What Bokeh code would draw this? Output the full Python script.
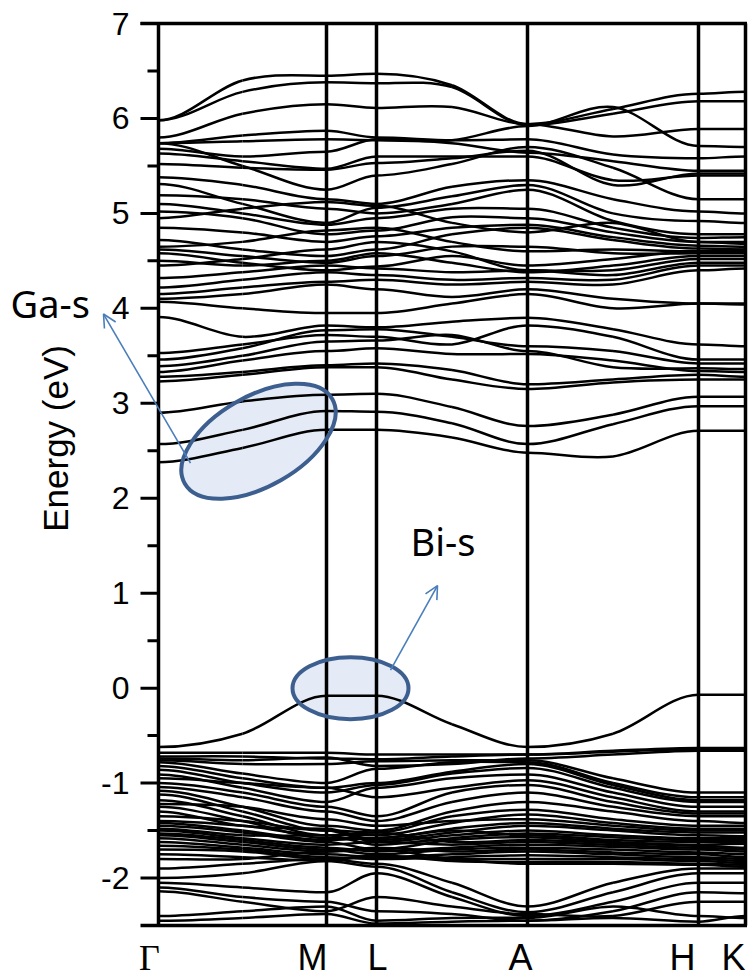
import math

from bokeh.plotting import figure
from bokeh.models import ColumnDataSource, Arrow, OpenHead
from bokeh.core.properties import value
from bokeh.embed import file_html
from bokeh.resources import INLINE

# k-path: high-symmetry points (cumulative path length) and their labels
kpoint_labels = ["\u0393", "M", "L", "A", "H", "K"]
kpoint_pos = [0.0, 168.0, 218.0, 369.0, 540.0, 587.0]

# sampling nodes along the path: each high-symmetry point plus segment midpoints
k_nodes = [0.0, 84.0, 168.0, 218.0, 293.5, 369.0, 454.5, 540.0, 587.0]
node_is_symmetry = [True, False, True, True, False, True, False, True, True]

# energy axis
e_min, e_max = -2.5, 7.0
major_ticks = [-2, -1, 0, 1, 2, 3, 4, 5, 6, 7]
minor_ticks = [-1.5, -0.5, 0.5, 1.5, 2.5, 3.5, 4.5, 5.5, 6.5]
major_labels = ["-2", "-1", "0", "1", "2", "3", "4", "5", "6", "7"]

# band energies (eV) at the nodes:  Γ, Γ-M, M, L, L-A, A, A-H, H, K
# conduction bands
cb01 = [5.98, 6.40, 6.45, 6.47, 6.35, 5.94, 6.10, 6.26, 6.28]
cb02 = [5.98, 6.28, 6.38, 6.37, 6.33, 5.93, 6.05, 6.18, 6.18]
cb03 = [5.80, 6.05, 6.15, 6.11, 6.12, 5.94, 5.81, 5.89, 5.89]
cb04 = [5.74, 5.76, 5.78, 5.77, 5.77, 5.92, 6.12, 5.71, 5.70]
cb05 = [5.74, 5.82, 5.87, 5.80, 5.77, 5.78, 5.62, 5.58, 5.60]
cb06 = [5.68, 5.60, 5.65, 5.78, 5.74, 5.64, 5.55, 5.45, 5.45]
cb07 = [5.63, 5.55, 5.47, 5.60, 5.60, 5.60, 5.35, 5.40, 5.40]
cb08 = [5.52, 5.48, 5.46, 5.53, 5.58, 5.66, 5.30, 5.42, 5.42]
cb09 = [5.74, 5.50, 5.25, 5.40, 5.52, 5.70, 5.48, 5.15, 5.15]
cb10 = [5.38, 5.30, 5.15, 5.10, 5.28, 5.35, 5.15, 5.02, 5.00]
cb11 = [5.31, 5.10, 4.90, 5.06, 5.18, 5.30, 5.00, 4.92, 4.90]
cb12 = [5.19, 5.15, 5.05, 5.00, 5.10, 5.25, 4.92, 4.78, 4.78]
cb13 = [5.10, 5.00, 4.88, 4.95, 5.05, 5.05, 4.85, 4.74, 4.75]
cb14 = [5.02, 4.95, 4.78, 4.82, 4.96, 4.95, 4.80, 4.70, 4.70]
cb15 = [4.95, 5.05, 5.12, 5.08, 4.90, 4.80, 4.90, 4.70, 4.68]
cb16 = [4.85, 4.80, 4.70, 4.76, 4.85, 4.88, 4.75, 4.66, 4.65]
cb17 = [4.72, 4.62, 4.55, 4.62, 4.78, 4.85, 4.72, 4.63, 4.62]
cb18 = [4.65, 4.70, 4.82, 4.85, 4.70, 4.60, 4.62, 4.60, 4.60]
cb19 = [4.62, 4.55, 4.48, 4.55, 4.65, 4.65, 4.58, 4.58, 4.58]
cb20 = [4.58, 4.48, 4.40, 4.44, 4.55, 4.45, 4.52, 4.60, 4.62]
cb21 = [4.50, 4.45, 4.50, 4.58, 4.48, 4.38, 4.45, 4.55, 4.55]
cb22 = [4.45, 4.52, 4.62, 4.70, 4.60, 4.40, 4.40, 4.52, 4.52]
cb23 = [4.32, 4.38, 4.45, 4.42, 4.38, 4.40, 4.35, 4.48, 4.48]
cb24 = [4.22, 4.30, 4.38, 4.35, 4.30, 4.32, 4.30, 4.45, 4.45]
cb25 = [4.15, 4.22, 4.28, 4.30, 4.25, 4.28, 4.25, 4.40, 4.42]
cb26 = [4.10, 4.15, 4.25, 4.20, 4.12, 4.20, 4.10, 4.05, 4.05]
cb27 = [4.07, 4.00, 3.95, 3.95, 4.05, 4.15, 4.00, 4.05, 4.04]
cb28 = [3.91, 3.70, 3.82, 3.80, 3.86, 3.90, 3.78, 3.62, 3.60]
cb29 = [3.53, 3.62, 3.72, 3.70, 3.62, 3.82, 3.70, 3.46, 3.46]
cb30 = [3.46, 3.58, 3.77, 3.78, 3.70, 3.60, 3.55, 3.42, 3.42]
cb31 = [3.39, 3.50, 3.65, 3.66, 3.72, 3.55, 3.38, 3.37, 3.36]
cb32 = [3.33, 3.45, 3.55, 3.58, 3.52, 3.52, 3.45, 3.34, 3.33]
cb33 = [3.28, 3.33, 3.40, 3.42, 3.35, 3.20, 3.25, 3.30, 3.28]
cb34 = [3.23, 3.30, 3.38, 3.38, 3.25, 3.15, 3.22, 3.25, 3.25]
cb35 = [2.90, 3.02, 3.09, 3.10, 2.96, 2.76, 2.88, 3.07, 3.07]
cb36 = [2.57, 2.72, 2.92, 2.91, 2.79, 2.57, 2.78, 2.97, 2.97]
cb37 = [2.38, 2.53, 2.72, 2.72, 2.64, 2.48, 2.44, 2.71, 2.71]

# valence bands
vb01 = [-0.62, -0.48, -0.08, -0.08, -0.38, -0.62, -0.48, -0.07, -0.07]
vb02 = [-0.68, -0.68, -0.68, -0.70, -0.70, -0.70, -0.66, -0.63, -0.63]
vb03 = [-0.72, -0.72, -0.74, -0.75, -0.72, -0.70, -0.67, -0.64, -0.64]
vb04 = [-0.74, -0.76, -0.73, -0.82, -0.80, -0.74, -0.70, -0.66, -0.66]
vb05 = [-0.76, -0.80, -0.80, -0.77, -0.76, -0.76, -0.95, -1.10, -1.10]
vb06 = [-0.78, -0.90, -1.00, -0.85, -0.78, -0.78, -1.00, -1.15, -1.15]
vb07 = [-0.82, -0.95, -1.05, -1.00, -0.88, -0.80, -1.02, -1.18, -1.18]
vb08 = [-0.86, -1.00, -1.10, -1.02, -0.90, -0.84, -1.05, -1.20, -1.20]
vb09 = [-0.91, -1.05, -1.20, -1.05, -0.95, -0.91, -1.10, -1.25, -1.25]
vb10 = [-0.95, -1.00, -1.05, -1.15, -1.05, -0.97, -1.15, -1.30, -1.30]
vb11 = [-1.00, -1.10, -1.25, -1.35, -1.10, -1.02, -1.20, -1.32, -1.32]
vb12 = [-1.04, -1.15, -1.30, -1.40, -1.20, -1.10, -1.25, -1.35, -1.35]
vb13 = [-1.08, -1.25, -1.45, -1.50, -1.30, -1.20, -1.30, -1.40, -1.42]
vb14 = [-1.12, -1.30, -1.50, -1.52, -1.35, -1.28, -1.38, -1.45, -1.45]
vb15 = [-1.18, -1.35, -1.55, -1.55, -1.42, -1.33, -1.42, -1.48, -1.48]
vb16 = [-1.22, -1.25, -1.38, -1.45, -1.40, -1.38, -1.45, -1.50, -1.50]
vb17 = [-1.25, -1.40, -1.58, -1.58, -1.48, -1.42, -1.48, -1.52, -1.52]
vb18 = [-1.30, -1.45, -1.48, -1.60, -1.52, -1.45, -1.50, -1.55, -1.56]
vb19 = [-1.35, -1.40, -1.50, -1.62, -1.55, -1.50, -1.55, -1.58, -1.58]
vb20 = [-1.40, -1.45, -1.55, -1.65, -1.58, -1.53, -1.57, -1.60, -1.60]
vb21 = [-1.42, -1.50, -1.60, -1.58, -1.50, -1.55, -1.60, -1.62, -1.62]
vb22 = [-1.45, -1.52, -1.62, -1.70, -1.60, -1.57, -1.62, -1.65, -1.64]
vb23 = [-1.48, -1.55, -1.55, -1.52, -1.62, -1.60, -1.63, -1.66, -1.68]
vb24 = [-1.50, -1.58, -1.65, -1.62, -1.65, -1.62, -1.65, -1.68, -1.70]
vb25 = [-1.53, -1.60, -1.68, -1.72, -1.68, -1.65, -1.67, -1.70, -1.72]
vb26 = [-1.55, -1.62, -1.70, -1.75, -1.70, -1.68, -1.70, -1.73, -1.75]
vb27 = [-1.58, -1.65, -1.72, -1.68, -1.72, -1.70, -1.73, -1.75, -1.78]
vb28 = [-1.62, -1.68, -1.75, -1.78, -1.75, -1.72, -1.75, -1.78, -1.80]
vb29 = [-1.66, -1.70, -1.78, -1.80, -1.78, -1.76, -1.78, -1.80, -1.82]
vb30 = [-1.70, -1.72, -1.80, -1.78, -1.80, -1.80, -1.80, -1.82, -1.84]
vb31 = [-1.75, -1.78, -1.82, -1.76, -1.82, -1.83, -1.83, -1.85, -1.86]
vb32 = [-1.80, -1.80, -1.72, -1.70, -1.80, -1.85, -1.85, -1.86, -1.88]
vb33 = [-1.90, -1.85, -1.80, -1.85, -2.05, -2.30, -2.05, -1.90, -1.90]
vb34 = [-2.00, -1.95, -1.82, -1.88, -2.15, -2.36, -2.15, -1.95, -1.95]
vb35 = [-2.05, -2.10, -2.15, -1.95, -2.20, -2.40, -2.25, -2.05, -2.05]
vb36 = [-2.10, -2.20, -2.25, -2.35, -2.38, -2.45, -2.35, -2.15, -2.16]
vb37 = [-2.14, -2.25, -2.35, -2.20, -2.30, -2.38, -2.40, -2.25, -2.25]
vb38 = [-2.40, -2.35, -2.30, -2.45, -2.42, -2.42, -2.30, -2.40, -2.42]
vb39 = [-2.45, -2.42, -2.38, -2.48, -2.46, -2.45, -2.42, -2.46, -2.40]

conduction = [cb01, cb02, cb03, cb04, cb05, cb06, cb07, cb08, cb09, cb10,
              cb11, cb12, cb13, cb14, cb15, cb16, cb17, cb18, cb19, cb20,
              cb21, cb22, cb23, cb24, cb25, cb26, cb27, cb28, cb29, cb30,
              cb31, cb32, cb33, cb34, cb35, cb36, cb37]
valence = [vb01, vb02, vb03, vb04, vb05, vb06, vb07, vb08, vb09, vb10,
           vb11, vb12, vb13, vb14, vb15, vb16, vb17, vb18, vb19, vb20,
           vb21, vb22, vb23, vb24, vb25, vb26, vb27, vb28, vb29, vb30,
           vb31, vb32, vb33, vb34, vb35, vb36, vb37, vb38, vb39]

# annotation anchors (k, eV)
ga_ellipse = (100.0, 2.60)
bi_ellipse = (192.0, 0.0)
ga_arrow = (32.0, 2.37, -55.0, 3.94)
bi_arrow = (232.0, 0.19, 279.0, 1.08)
ga_text = (-148.0, 4.06)
bi_text = (252.0, 1.55)

# canvas geometry (pixels): the data frame fills the whole canvas and the
# energy axis, its labels and the k-point labels are drawn inside it
W, H = 751, 980
left_px, top_px, bottom_px = 158, 23, 55
px_per_ev = (H - top_px - bottom_px) / (e_max - e_min)
x_lo = -float(left_px)
x_hi = x_lo + W
y_lo = e_min - bottom_px / px_per_ev
y_hi = e_max + top_px / px_per_ev


def band_segments(energies):
    """Cubic Bezier pieces through the nodes: flat at high-symmetry points,
    centred-difference slope at the segment midpoints."""
    n = len(k_nodes)
    slopes = []
    for i in range(n):
        if node_is_symmetry[i]:
            slopes.append(0.0)
        else:
            slopes.append((energies[i + 1] - energies[i - 1]) /
                          (k_nodes[i + 1] - k_nodes[i - 1]))
    segs = []
    for i in range(n - 1):
        h = k_nodes[i + 1] - k_nodes[i]
        segs.append((k_nodes[i], energies[i],
                     k_nodes[i + 1], energies[i + 1],
                     k_nodes[i] + h / 3, energies[i] + slopes[i] * h / 3,
                     k_nodes[i + 1] - h / 3, energies[i + 1] - slopes[i + 1] * h / 3))
    return segs


cols = {c: [] for c in ("x0", "y0", "x1", "y1", "cx0", "cy0", "cx1", "cy1")}
for band in conduction + valence:
    for seg in band_segments(band):
        for c, v in zip(cols, seg):
            cols[c].append(v)
src = ColumnDataSource(cols)

p = figure(width=W, height=H, x_range=(x_lo, x_hi), y_range=(y_lo, y_hi),
           output_backend="svg", toolbar_location=None, min_border=0,
           min_border_left=0, min_border_right=0, min_border_top=0,
           min_border_bottom=0)
p.background_fill_color = "white"
p.border_fill_color = "white"
p.grid.visible = False
p.outline_line_color = None
p.axis.visible = False

sans = value("Liberation Sans")
k_first, k_last = kpoint_pos[0], kpoint_pos[-1]
major_len = 18.0
minor_len = 11.0

ellipses = ((ga_ellipse, 170, 90, 0.52), (bi_ellipse, 116, 62, 0.0))

# highlight fills sit underneath the bands
for (cx, cy), w, h, ang in ellipses:
    p.ellipse(x=[cx], y=[cy], width=w, height=h, width_units="screen",
              height_units="screen", angle=ang, fill_color="#dfe7f4",
              fill_alpha=0.85, line_color=None)

p.bezier(x0="x0", y0="y0", x1="x1", y1="y1", cx0="cx0", cy0="cy0",
         cx1="cx1", cy1="cy1", source=src, line_color="black", line_width=2.5)

# high-symmetry separators and the right-hand border
p.segment(x0=kpoint_pos[1:], y0=[e_min] * 5, x1=kpoint_pos[1:], y1=[e_max] * 5,
          line_color="black", line_width=3.5)

# frame: left axis line, top and bottom lines (these run out to tick length)
p.segment(x0=[k_first, k_first - major_len, k_first - major_len],
          y0=[e_min, e_max, e_min],
          x1=[k_first, k_last + 1.5, k_last + 1.5],
          y1=[e_max, e_max, e_min],
          line_color="black", line_width=3.5)

# energy ticks and labels
p.segment(x0=[k_first - major_len] * len(major_ticks), y0=major_ticks,
          x1=[k_first] * len(major_ticks), y1=major_ticks,
          line_color="black", line_width=3)
p.segment(x0=[k_first - minor_len] * len(minor_ticks), y0=minor_ticks,
          x1=[k_first] * len(minor_ticks), y1=minor_ticks,
          line_color="black", line_width=3)
p.text(x=[k_first - major_len - 11] * len(major_ticks), y=major_ticks,
       text=major_labels, text_font=sans, text_font_size="32px",
       text_align="right", text_baseline="middle", text_color="black")
p.text(x=[-103.0], y=[2.63], text=["Energy (eV)"], text_font=sans,
       text_font_size="35px", text_align="center", text_baseline="middle",
       angle=math.pi / 2, text_color="black")

# k-point labels, nudged slightly left of their separators; Γ in a serif face
label_nudge = [-9.0, -14.0, 1.0, -7.0, -16.0, -12.0]
label_x = [k + d for k, d in zip(kpoint_pos, label_nudge)]
label_y = -2.84
p.text(x=label_x[:1], y=[label_y], text=kpoint_labels[:1],
       text_font=value("Liberation Serif"), text_font_size="36px",
       text_align="center", text_baseline="middle", text_color="black")
p.text(x=label_x[1:], y=[label_y] * 5, text=kpoint_labels[1:], text_font=sans,
       text_font_size="36px", text_align="center", text_baseline="middle",
       text_color="black")

# ellipse outlines on top
for (cx, cy), w, h, ang in ellipses:
    p.ellipse(x=[cx], y=[cy], width=w, height=h, width_units="screen",
              height_units="screen", angle=ang, fill_color=None,
              line_color="#3d5f8f", line_width=4)

arrow_color = "#4a7ebb"
for x0, y0, x1, y1 in (ga_arrow, bi_arrow):
    p.add_layout(Arrow(x_start=x0, y_start=y0, x_end=x1, y_end=y1,
                       line_color=arrow_color, line_width=1.6,
                       end=OpenHead(size=13, line_color=arrow_color,
                                    line_width=1.6)))

p.text(x=[ga_text[0], bi_text[0]], y=[ga_text[1], bi_text[1]],
       text=["Ga-s", "Bi-s"], text_font=value("Noto Sans"),
       text_font_size="38px", text_baseline="middle", text_color="black")

open("out.html", "w").write(file_html(p, INLINE))
